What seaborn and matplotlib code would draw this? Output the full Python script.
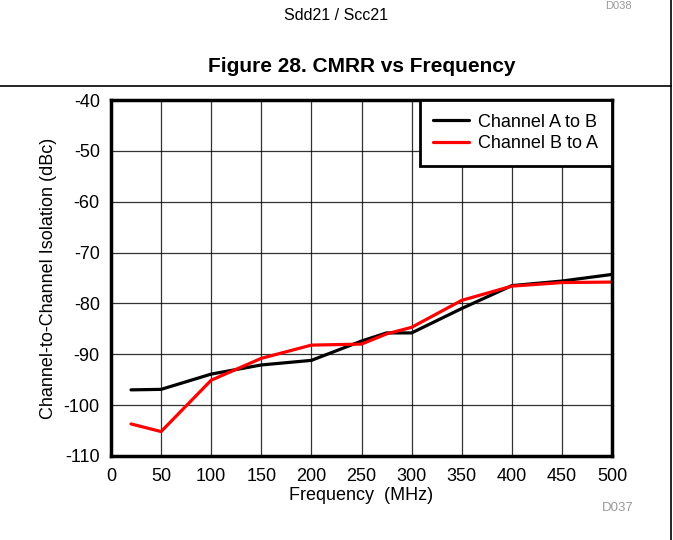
import pandas as pd
import matplotlib
matplotlib.use("Agg")
import matplotlib.pyplot as plt
import seaborn as sns

# values
freq = [20, 50, 100, 150, 200, 250, 275, 300, 350, 400, 450, 500]
a_to_b = [-97.0, -96.9, -93.9, -92.1, -91.2, -87.4, -85.8, -85.8, -81.0, -76.5, -75.6, -74.3]
b_to_a = [-103.7, -105.2, -95.1, -90.8, -88.2, -88.0, -86.0, -84.7, -79.4, -76.6, -75.9, -75.8]
series_names = ["Channel A to B", "Channel B to A"]
x_ticks = [0, 50, 100, 150, 200, 250, 300, 350, 400, 450, 500]
y_ticks = [-40, -50, -60, -70, -80, -90, -100, -110]

df = pd.DataFrame({
    "Frequency": freq * 2,
    "Isolation": a_to_b + b_to_a,
    "Series": [series_names[0]] * len(freq) + [series_names[1]] * len(freq),
})

sns.set_style("white")
plt.rcParams["font.family"] = ["Liberation Sans", "DejaVu Sans"]
plt.rcParams["axes.unicode_minus"] = False
plt.rcParams["text.color"] = "black"
plt.rcParams["axes.labelcolor"] = "black"

fig = plt.figure(figsize=(6.73, 5.40), dpi=100)
ax = fig.add_axes([0.1649, 0.1556, 0.9094 - 0.1649, 0.8148 - 0.1556])

sns.lineplot(data=df, x="Frequency", y="Isolation", hue="Series",
             palette={series_names[0]: "black", series_names[1]: "#ff0000"},
             linewidth=2.3, ax=ax, sort=False)

ax.set_xlim(0, 500)
ax.set_ylim(-110, -40)
ax.set_xticks(x_ticks)
ax.set_yticks(y_ticks)
ax.tick_params(axis="x", length=0, labelsize=13, pad=9, colors="black")
ax.tick_params(axis="y", length=0, labelsize=13, pad=8, colors="black")
ax.grid(True, color="black", linewidth=0.9, alpha=0.8)
for s in ax.spines.values():
    s.set_visible(True)
    s.set_color("black")
    s.set_linewidth(2.5)

ax.set_xlabel("Frequency  (MHz)", fontsize=13, labelpad=1)
ax.set_ylabel("Channel-to-Channel Isolation (dBc)", fontsize=13, labelpad=5)

leg = ax.legend(loc="upper right", fontsize=13, frameon=True, fancybox=False,
                borderaxespad=0, handlelength=1.95, handletextpad=0.55,
                borderpad=0.75, labelspacing=0.25)
leg.get_frame().set_edgecolor("black")
leg.get_frame().set_linewidth(2.0)
leg.get_frame().set_alpha(1)

# page furniture around the chart
fig.text(336 / 673, 1 - 15 / 540, "Sdd21 / Scc21", ha="center", va="center", fontsize=11.5)
fig.text(362 / 673, 1 - 66 / 540, "Figure 28. CMRR vs Frequency", ha="center", va="center",
         fontsize=15, fontweight="bold")
fig.text(618 / 673, 1 - 1 / 540, "D038", ha="center", va="top", fontsize=8, color="#999999")
fig.text(618 / 673, 1 - 508 / 540, "D037", ha="center", va="center", fontsize=9.5, color="#999999")
fig.add_artist(plt.Line2D([0, 671 / 673], [1 - 86 / 540] * 2, color="black", linewidth=1.2,
                          transform=fig.transFigure))
fig.add_artist(plt.Line2D([671 / 673] * 2, [0, 1], color="black", linewidth=1.2,
                          transform=fig.transFigure))

fig.savefig("out.png", dpi=100)
